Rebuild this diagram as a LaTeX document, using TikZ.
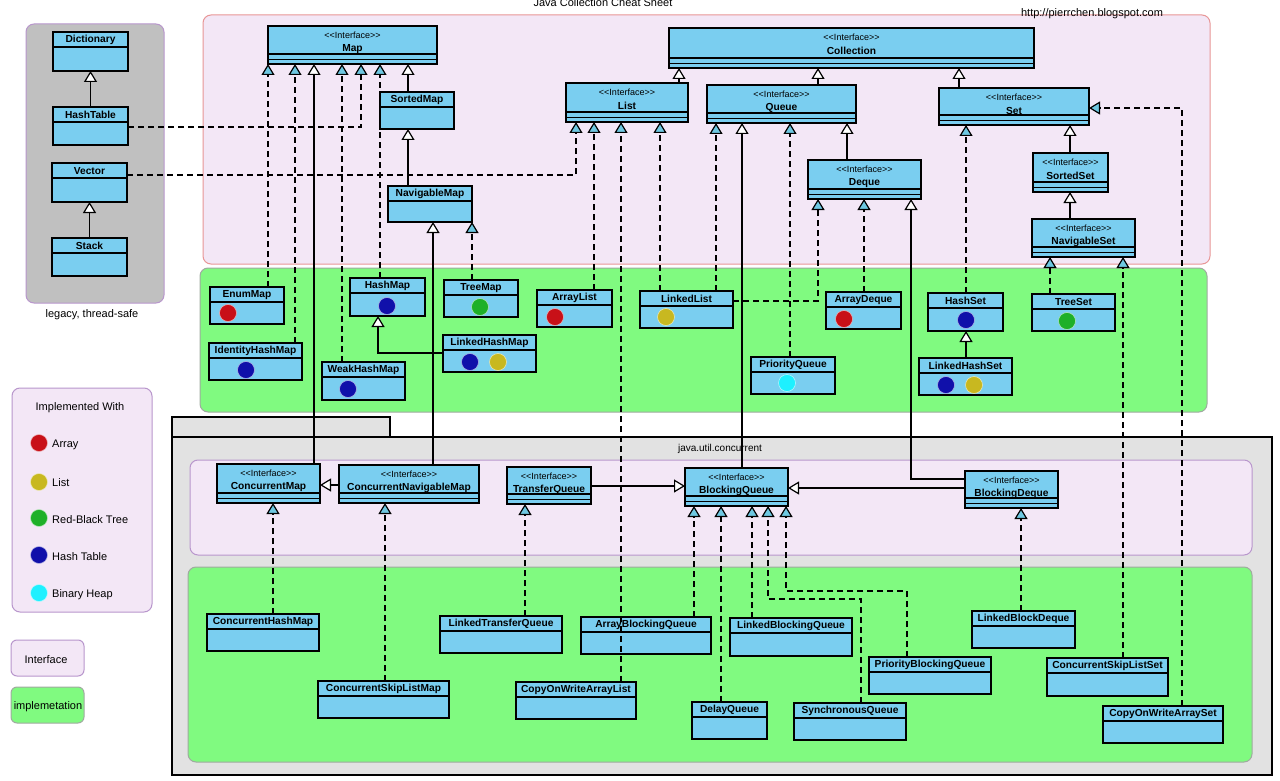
\documentclass[tikz,border=0pt]{standalone}
\usepackage{fontspec}
\setmainfont{Liberation Sans}
\usetikzlibrary{arrows.meta,calc}
\definecolor{boxblue}{RGB}{122,206,240}
\definecolor{ifpink}{RGB}{243,231,246}
\definecolor{implgreen}{RGB}{128,250,128}
\definecolor{legacygray}{RGB}{192,192,192}
\definecolor{pkggray}{RGB}{226,226,226}
\definecolor{panelred}{RGB}{232,150,150}
\definecolor{panelpurple}{RGB}{184,150,204}
\definecolor{greenborder}{RGB}{160,170,160}
\definecolor{tipcyan}{RGB}{110,200,225}
\definecolor{cRed}{RGB}{200,16,24}
\definecolor{cYellow}{RGB}{200,184,32}
\definecolor{cGreen}{RGB}{30,176,40}
\definecolor{cBlue}{RGB}{16,16,170}
\definecolor{cCyan}{RGB}{30,240,255}
% class box: name, x1, y1, x2, y2, label
\newcommand\clsbox[6]{%
  \node[ubox, anchor=north west, minimum width={#4-#2}, minimum height={#5-#3}] (#1) at (#2,#3) {};
  \draw[line width=1.2pt] (#2,#3+15) -- (#4,#3+15);
  \node[nametext] (#1t) at ({(#2+#4)/2},#3+8) {#6};
}
% interface box
\newcommand\ifcbox[6]{%
  \node[ubox, anchor=north west, minimum width={#4-#2}, minimum height={#5-#3}] (#1) at (#2,#3) {};
  \draw[line width=1.3pt] (#2,#5-10) -- (#4,#5-10);
  \draw[line width=0.7pt] (#2,#5-5) -- (#4,#5-5);
  \node[stereotext] (#1s) at ({(#2+#4)/2},#3+9) {<{}<Interface>{}>};
  \node[nametext] (#1t) at ({(#2+#4)/2},#3+23) {#6};
}
\newcommand\impldot[3]{\fill[#3, draw=white!70!#3, line width=0.5pt] (#1,#2) circle (8.5pt);}
\begin{document}
\begin{tikzpicture}[x=1pt,y=-1pt,
  ubox/.style={draw=black, fill=boxblue, line width=1.7pt, inner sep=0pt, outer sep=0pt, rectangle},
  nametext/.style={font=\fontsize{10.2}{11}\selectfont\bfseries, inner sep=0pt},
  stereotext/.style={font=\fontsize{9}{10}\selectfont, inner sep=0pt},
  plaintext/.style={font=\fontsize{11}{12}\selectfont, inner sep=0pt},
  ext/.style={line width=1.2pt, -{Triangle[fill=white, length=11pt, width=13pt]}},
  impl/.style={line width=1.2pt, dash pattern=on 6pt off 4pt, -{Triangle[fill=tipcyan, length=11pt, width=13pt]}},
  panel/.style={line width=1pt, rounded corners=8pt}
]
\useasboundingbox (0,0) rectangle (1280,781);
\fill[white] (0,0) rectangle (1280,781);

% ---------- panels ----------
\draw[panel, draw=panelpurple, fill=legacygray] (26,24) rectangle (164,303);
\draw[panel, draw=panelred, fill=ifpink] (203,15) rectangle (1210,264);
\draw[panel, draw=greenborder, fill=implgreen] (200,268) rectangle (1207,412);

\node[plaintext] (title) at (603,3) {Java Collection Cheat Sheet};
\node[plaintext] (url) at (1092,14) {http://pierrchen.blogspot.com};
\node[plaintext] (legacylbl) at (92,315) {legacy, thread-safe};

% legend
\draw[panel, draw=panelpurple, fill=ifpink] (12,388) rectangle (152,612);
\node[plaintext] (legtitle) at (80,408) {Implemented With};
\impldot{39}{443}{cRed}    \node[plaintext, anchor=west] (legA) at (52,445) {Array};
\impldot{39}{482}{cYellow} \node[plaintext, anchor=west] (legB) at (52,483) {List};
\impldot{39}{518}{cGreen}  \node[plaintext, anchor=west] (legC) at (52,520) {Red-Black Tree};
\impldot{39}{555}{cBlue}   \node[plaintext, anchor=west] (legD) at (52,557) {Hash Table};
\impldot{39}{593}{cCyan}   \node[plaintext, anchor=west] (legE) at (52,595) {Binary Heap};
\draw[panel, rounded corners=6pt, draw=panelpurple, fill=ifpink] (11,640) rectangle (84,676);
\node[plaintext] (legIf) at (46,660) {Interface};
\draw[panel, rounded corners=6pt, draw=greenborder, fill=implgreen] (11,687) rectangle (84,723);
\node[plaintext] (legImpl) at (48,707) {implemetation};

% package java.util.concurrent
\draw[line width=1.5pt, fill=pkggray] (172,417) rectangle (390,437);
\draw[line width=1.5pt, fill=pkggray] (172,437) rectangle (1272,775);
\node[font=\fontsize{10}{11}\selectfont, inner sep=0pt] (pkg) at (720,449) {java.util.concurrent};
\draw[panel, draw=panelpurple, fill=ifpink] (190,460) rectangle (1252,555);
\draw[panel, draw=greenborder, fill=implgreen] (188,567) rectangle (1252,762);

% ---------- legacy ----------
\clsbox{Dictionary}{53}{32}{128}{71}{Dictionary}
\clsbox{HashTable}{53}{107}{128}{145}{HashTable}
\clsbox{Vector}{52}{163}{127}{202}{Vector}
\clsbox{Stack}{52}{238}{127}{276}{Stack}

% ---------- interfaces ----------
\ifcbox{Map}{268}{26}{437}{64}{Map}
\clsbox{SortedMap}{380}{92}{454}{129}{SortedMap}
\clsbox{NavigableMap}{388}{186}{472}{222}{NavigableMap}
\ifcbox{Collection}{669}{28}{1034}{68}{Collection}
\ifcbox{List}{566}{83}{688}{122}{List}
\ifcbox{Queue}{707}{85}{856}{123}{Queue}
\ifcbox{Deque}{808}{160}{921}{199}{Deque}
\ifcbox{Set}{939}{88}{1089}{125}{Set}
\ifcbox{SortedSet}{1033}{153}{1108}{192}{SortedSet}
\ifcbox{NavigableSet}{1032}{219}{1135}{257}{NavigableSet}

% ---------- implementations ----------
\clsbox{EnumMap}{210}{287}{284}{324}{EnumMap}
\clsbox{IdentityHashMap}{209}{343}{302}{380}{IdentityHashMap}
\clsbox{HashMap}{350}{278}{425}{316}{HashMap}
\clsbox{WeakHashMap}{322}{362}{405}{400}{WeakHashMap}
\clsbox{TreeMap}{444}{280}{518}{317}{TreeMap}
\clsbox{LinkedHashMap}{443}{335}{536}{372}{LinkedHashMap}
\clsbox{ArrayList}{537}{290}{612}{327}{ArrayList}
\clsbox{LinkedList}{640}{291}{733}{328}{LinkedList}
\clsbox{ArrayDeque}{826}{292}{901}{329}{ArrayDeque}
\clsbox{PriorityQueue}{751}{357}{835}{394}{PriorityQueue}
\clsbox{HashSet}{928}{293}{1003}{331}{HashSet}
\clsbox{LinkedHashSet}{919}{358}{1012}{395}{LinkedHashSet}
\clsbox{TreeSet}{1032}{294}{1115}{331}{TreeSet}

\impldot{228}{313}{cRed}
\impldot{246}{370}{cBlue}
\impldot{387}{306}{cBlue}
\impldot{348}{389}{cBlue}
\impldot{480}{307}{cGreen}
\impldot{470}{362}{cBlue}
\impldot{498}{362}{cYellow}
\impldot{555}{317}{cRed}
\impldot{666}{317}{cYellow}
\impldot{844}{319}{cRed}
\impldot{787}{383}{cCyan}
\impldot{966}{320}{cBlue}
\impldot{946}{385}{cBlue}
\impldot{974}{385}{cYellow}
\impldot{1067}{321}{cGreen}

% ---------- concurrent ----------
\ifcbox{ConcurrentMap}{217}{464}{320}{503}{ConcurrentMap}
\ifcbox{ConcurrentNavigableMap}{339}{465}{479}{503}{ConcurrentNavigableMap}
\ifcbox{TransferQueue}{507}{467}{591}{504}{TransferQueue}
\ifcbox{BlockingQueue}{685}{468}{788}{506}{BlockingQueue}
\ifcbox{BlockingDeque}{965}{471}{1058}{508}{BlockingDeque}

\clsbox{ConcurrentHashMap}{207}{614}{319}{651}{ConcurrentHashMap}
\clsbox{ConcurrentSkipListMap}{318}{681}{449}{718}{ConcurrentSkipListMap}
\clsbox{LinkedTransferQueue}{440}{616}{562}{653}{LinkedTransferQueue}
\clsbox{ArrayBlockingQueue}{581}{617}{711}{654}{ArrayBlockingQueue}
\clsbox{CopyOnWriteArrayList}{516}{682}{636}{719}{CopyOnWriteArrayList}
\clsbox{DelayQueue}{692}{702}{767}{739}{DelayQueue}
\clsbox{LinkedBlockingQueue}{730}{618}{852}{656}{LinkedBlockingQueue}
\clsbox{SynchronousQueue}{794}{703}{906}{740}{SynchronousQueue}
\clsbox{PriorityBlockingQueue}{869}{657}{991}{694}{PriorityBlockingQueue}
\clsbox{LinkedBlockDeque}{972}{611}{1075}{648}{LinkedBlockDeque}
\clsbox{ConcurrentSkipListSet}{1047}{658}{1168}{696}{ConcurrentSkipListSet}
\clsbox{CopyOnWriteArraySet}{1103}{706}{1223}{743}{CopyOnWriteArraySet}

% ---------- connectors ----------
% legacy
\draw[ext] (HashTable) -- (Dictionary);
\draw[ext] (Stack) -- (Vector);
\draw[impl] (HashTable.east |- 0,127) -| (361,0 |- Map.south);
\draw[impl] (Vector.east |- 0,175) -| (576,0 |- List.south);
% map family
\draw[impl] (268,0 |- EnumMap.north) -- (268,0 |- Map.south);
\draw[impl] (295,0 |- IdentityHashMap.north) -- (295,0 |- Map.south);
\draw[ext] (314,0 |- ConcurrentMap.north) -- (314,0 |- Map.south);
\draw[impl] (342,0 |- WeakHashMap.north) -- (342,0 |- Map.south);
\draw[impl] (380,0 |- HashMap.north) -- (380,0 |- Map.south);
\draw[ext] (408,0 |- SortedMap.north) -- (408,0 |- Map.south);
\draw[ext] (408,0 |- NavigableMap.north) -- (408,0 |- SortedMap.south);
\draw[ext] (433,0 |- ConcurrentNavigableMap.north) -- (433,0 |- NavigableMap.south);
\draw[impl] (472,0 |- TreeMap.north) -- (472,0 |- NavigableMap.south);
\draw[ext] (LinkedHashMap.west |- 0,353) -| (378,0 |- HashMap.south);
% list / queue
\draw[ext] (679,0 |- List.north) -- (679,0 |- Collection.south);
\draw[impl] (594,0 |- ArrayList.north) -- (594,0 |- List.south);
\draw[impl] (621,0 |- CopyOnWriteArrayList.north) -- (621,0 |- List.south);
\draw[impl] (660,0 |- LinkedList.north) -- (660,0 |- List.south);
\draw[impl] (716,0 |- LinkedList.north) -- (716,0 |- Queue.south);
\draw[impl] (LinkedList.east |- 0,301) -| (818,0 |- Deque.south);
\draw[ext] (818,0 |- Queue.north) -- (818,0 |- Collection.south);
\draw[ext] (742,0 |- BlockingQueue.north) -- (742,0 |- Queue.south);
\draw[impl] (790,0 |- PriorityQueue.north) -- (790,0 |- Queue.south);
\draw[ext] (847,0 |- Deque.north) -- (847,0 |- Queue.south);
\draw[impl] (864,0 |- ArrayDeque.north) -- (864,0 |- Deque.south);
\draw[ext] (BlockingDeque.west |- 0,479) -| (911,0 |- Deque.south);
% set
\draw[ext] (959,0 |- Set.north) -- (959,0 |- Collection.south);
\draw[impl] (966,0 |- HashSet.north) -- (966,0 |- Set.south);
\draw[ext] (966,0 |- LinkedHashSet.north) -- (966,0 |- HashSet.south);
\draw[ext] (1070,0 |- SortedSet.north) -- (1070,0 |- Set.south);
\draw[ext] (1070,0 |- NavigableSet.north) -- (1070,0 |- SortedSet.south);
\draw[impl] (1050,0 |- TreeSet.north) -- (1050,0 |- NavigableSet.south);
\draw[impl] (1123,0 |- ConcurrentSkipListSet.north) -- (1123,0 |- NavigableSet.south);
\draw[impl] (1182,0 |- CopyOnWriteArraySet.north) |- (Set.east |- 0,108);
% concurrent interfaces
\draw[ext] (ConcurrentNavigableMap.west |- 0,485) -- (ConcurrentMap.east |- 0,485);
\draw[ext] (TransferQueue.east |- 0,486) -- (BlockingQueue.west |- 0,486);
\draw[ext] (BlockingDeque.west |- 0,488) -- (BlockingQueue.east |- 0,488);
% concurrent implementations
\draw[impl] (273,0 |- ConcurrentHashMap.north) -- (273,0 |- ConcurrentMap.south);
\draw[impl] (385,0 |- ConcurrentSkipListMap.north) -- (385,0 |- ConcurrentNavigableMap.south);
\draw[impl] (525,0 |- LinkedTransferQueue.north) -- (525,0 |- TransferQueue.south);
\draw[impl] (694,0 |- ArrayBlockingQueue.north) -- (694,0 |- BlockingQueue.south);
\draw[impl] (721,0 |- DelayQueue.north) -- (721,0 |- BlockingQueue.south);
\draw[impl] (752,0 |- LinkedBlockingQueue.north) -- (752,0 |- BlockingQueue.south);
\draw[impl] (861,0 |- SynchronousQueue.north) -- (861,599) -| (768,0 |- BlockingQueue.south);
\draw[impl] (907,0 |- PriorityBlockingQueue.north) -- (907,591) -| (786,0 |- BlockingQueue.south);
\draw[impl] (1021,0 |- LinkedBlockDeque.north) -- (1021,0 |- BlockingDeque.south);
\end{tikzpicture}
\end{document}
